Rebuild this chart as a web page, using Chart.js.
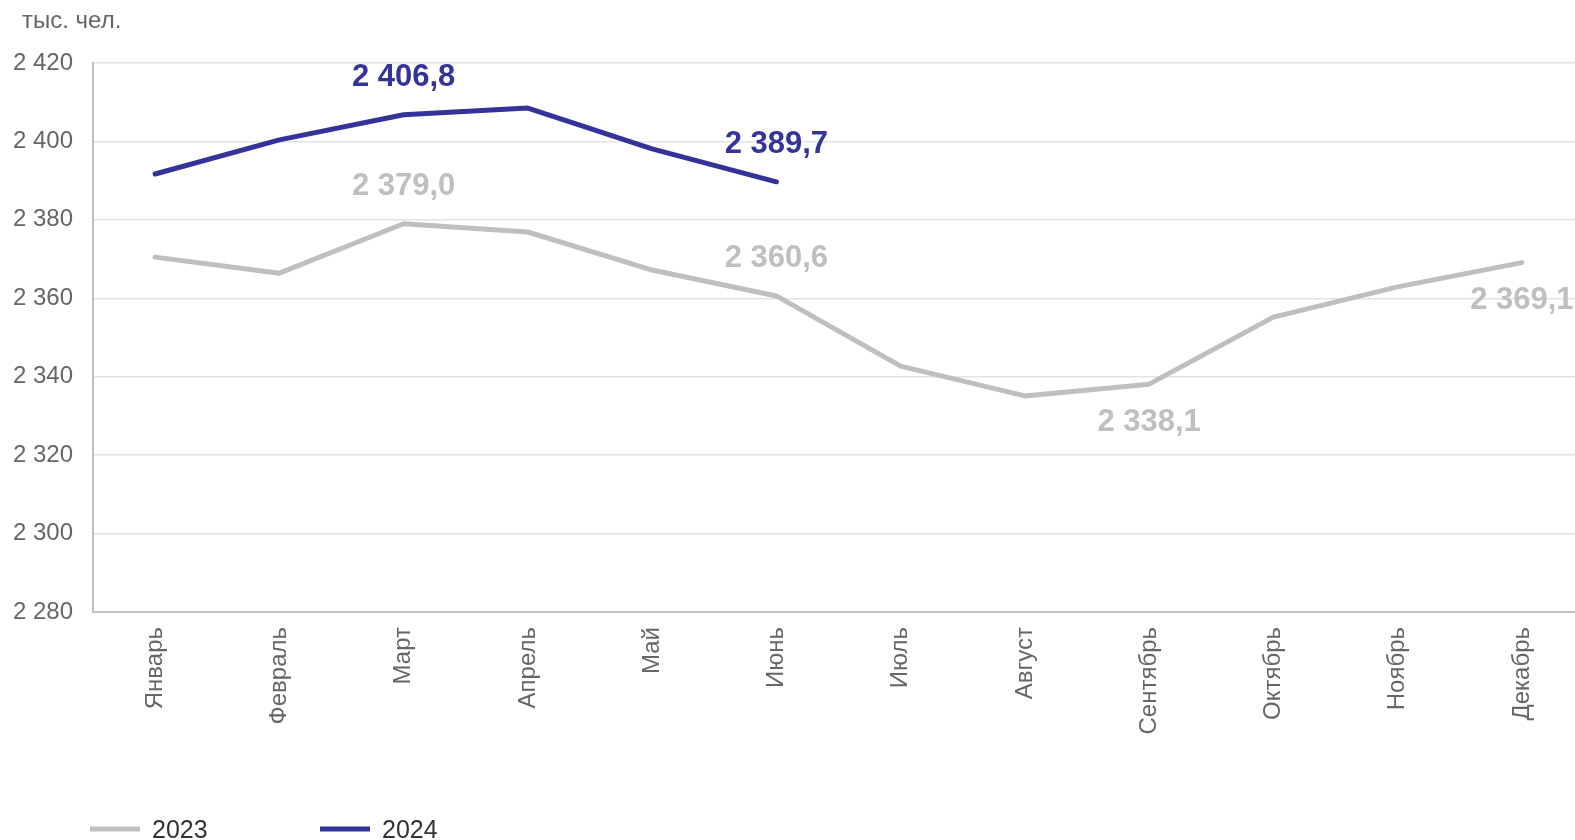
<!DOCTYPE html>
<html>
<head>
<meta charset="utf-8">
<script src="https://cdn.jsdelivr.net/npm/chart.js@4"></script>
<style>
  html, body { margin: 0; padding: 0; background: #fff; overflow: hidden; width: 1575px; height: 840px; }
  #wrap { width: 1575px; height: 840px; overflow: hidden; position: relative; }
  #chart { position: absolute; left: 0; top: 0; }
</style>
</head>
<body>
<!-- canvas is a bit wider than the window: the plot runs past the right edge in the reference -->
<div id="wrap"><canvas id="chart" width="1584" height="840"></canvas></div>
<script>
// Data
const months = ['Январь', 'Февраль', 'Март', 'Апрель', 'Май', 'Июнь',
  'Июль', 'Август', 'Сентябрь', 'Октябрь', 'Ноябрь', 'Декабрь'];
const values2023 = [2370.5, 2366.4, 2379.0, 2376.9, 2367.2, 2360.6,
  2342.7, 2335.1, 2338.1, 2355.2, 2362.9, 2369.1];
const values2024 = [2391.7, 2400.4, 2406.8, 2408.5, 2398.1, 2389.7];
const yTicks = [2280, 2300, 2320, 2340, 2360, 2380, 2400, 2420];
// which points get a value label, and where
const labels2023 = { 2: 'above', 5: 'above', 8: 'below', 11: 'below' };
const labels2024 = { 2: 'above', 5: 'above' };

const FONT = '"Liberation Sans", Arial, sans-serif';
const GREY = '#bfbfbf';
const NAVY = '#333399';

// "2 406,8" style numbers
function fmt(v, decimals) {
  const parts = v.toFixed(decimals).split('.');
  const int = parts[0].replace(/\B(?=(\d{3})+(?!\d))/g, ' ');
  return parts.length > 1 ? int + ',' + parts[1] : int;
}

// Value labels, unit caption and legend drawn on the canvas
const extras = {
  id: 'extras',
  afterDatasetsDraw(chart) {
    const ctx = chart.ctx;
    const sets = [labels2023, labels2024];
    ctx.save();
    ctx.font = 'bold 31px ' + FONT;
    ctx.textAlign = 'center';
    ctx.textBaseline = 'middle';
    chart.data.datasets.forEach((ds, i) => {
      const meta = chart.getDatasetMeta(i);
      ctx.fillStyle = ds.borderColor;
      Object.keys(sets[i]).forEach(k => {
        const pt = meta.data[k];
        const dy = sets[i][k] === 'above' ? -37 : 38;
        ctx.fillText(fmt(ds.data[k], 1), pt.x, pt.y + dy);
      });
    });

    ctx.font = '24px ' + FONT;
    ctx.fillStyle = '#666';
    ctx.textAlign = 'left';
    ctx.fillText('тыс. чел.', 22, 21);

    // legend
    const legendX = [90, 320];
    ctx.font = '25px ' + FONT;
    chart.data.datasets.forEach((ds, i) => {
      const x = legendX[i];
      ctx.strokeStyle = ds.borderColor;
      ctx.lineWidth = 5;
      ctx.beginPath();
      ctx.moveTo(x, 829);
      ctx.lineTo(x + 50, 829);
      ctx.stroke();
      ctx.fillStyle = '#333';
      ctx.fillText(ds.label, x + 62, 831);
    });
    ctx.restore();
  }
};

new Chart(document.getElementById('chart'), {
  type: 'line',
  data: {
    labels: months,
    datasets: [
      {
        label: '2023',
        data: values2023,
        borderColor: GREY,
        backgroundColor: GREY,
        borderWidth: 5,
        borderCapStyle: 'round',
        borderJoinStyle: 'round',
        pointRadius: 0,
        tension: 0
      },
      {
        label: '2024',
        data: values2024,
        borderColor: NAVY,
        backgroundColor: NAVY,
        borderWidth: 5,
        borderCapStyle: 'round',
        borderJoinStyle: 'round',
        pointRadius: 0,
        tension: 0
      }
    ]
  },
  options: {
    responsive: false,
    animation: false,
    devicePixelRatio: 1,
    layout: { padding: { top: 63, right: 0, bottom: 0, left: 0 } },
    plugins: {
      legend: { display: false },
      tooltip: { enabled: false }
    },
    scales: {
      x: {
        offset: true,
        grid: { display: false, drawTicks: false },
        border: { color: GREY, width: 2 },
        ticks: {
          color: '#666',
          font: { family: FONT, size: 24 },
          minRotation: 90,
          maxRotation: 90,
          padding: 15
        },
        afterFit(scale) { scale.height = 228; }
      },
      y: {
        min: 2280,
        max: 2420,
        grid: { color: '#e4e4e4', lineWidth: 1.5, drawTicks: false },
        border: { color: GREY, width: 2 },
        ticks: {
          stepSize: 20,
          color: '#666',
          font: { family: FONT, size: 24 },
          padding: 20,
          callback: v => yTicks.includes(v) ? fmt(v, 0) : ''
        },
        afterFit(scale) { scale.width = 93; }
      }
    }
  },
  plugins: [extras]
});
</script>
</body>
</html>
